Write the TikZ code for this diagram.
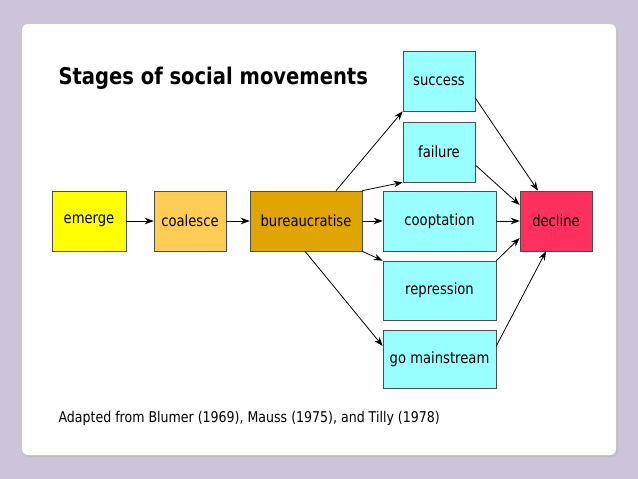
\documentclass[tikz,border=0pt]{standalone}
\usepackage{fontspec}
\setmainfont{DejaVu Sans}
\usetikzlibrary{arrows.meta}
\definecolor{bg}{HTML}{CCC5D9}
\definecolor{yel}{HTML}{FFFF00}
\definecolor{lor}{HTML}{FFCC55}
\definecolor{dor}{HTML}{E0A500}
\definecolor{cy}{HTML}{99FFFF}
\definecolor{red}{HTML}{FF2F5E}
\begin{document}
\begin{tikzpicture}[x=1pt,y=-1pt,
  bx/.style={draw=black!70,line width=0.6pt,minimum height=60pt,inner sep=0pt,font=\fontsize{15.5}{18}\selectfont\addfontfeatures{FakeStretch=0.85}},
  ar/.style={-{Stealth[length=9pt,width=6.5pt]},line width=0.8pt}]
\fill[bg] (0,0) rectangle (638,479);
\useasboundingbox (0,0) rectangle (638,479);
\fill[black!25,rounded corners=6pt] (23,26) rectangle (618,457);
\fill[white,rounded corners=6pt] (22,24) rectangle (616,455);
\node[anchor=west,font=\bfseries\fontsize{23}{26}\selectfont\addfontfeatures{FakeStretch=0.85}] (t) at (55,78) {Stages of social movements};
\node[bx,fill=yel,minimum width=74pt] (em) at (89,221) {emerge};
\node[bx,fill=lor,minimum width=72pt] (co) at (190,221) {coalesce};
\node[bx,fill=dor,minimum width=112pt] (bu) at (306,221) {bureaucratise};
\node[bx,fill=cy,minimum width=72pt] (su) at (439,81) {success};
\node[bx,fill=cy,minimum width=72pt] (fa) at (439,152) {failure};
\node[bx,fill=cy,minimum width=113pt] (cp) at (439.5,221) {cooptation};
\node[bx,fill=cy,minimum width=113pt,minimum height=59pt] (re) at (439.5,290.5) {repression};
\node[bx,fill=cy,minimum width=113pt,minimum height=58pt] (gm) at (439.5,359) {go mainstream};
\node[bx,fill=red,minimum width=72pt] (de) at (556,221) {decline};
\draw[ar] ([xshift=30pt]bu.north) -- (su.south west);
\draw[ar] (em) -- (co);
\draw[ar] (co) -- (bu);
\draw[ar] (bu.north east) -- (fa.south west);
\draw[ar] (bu) -- (cp);
\draw[ar] (bu.south east) -- (re.north west);
\draw[ar] ([xshift=-1pt]bu.south) -- ([yshift=13pt]gm.west);
\draw[ar] ([yshift=-17pt]su.east) -- ([xshift=-18pt]de.north);
\draw[ar] ([yshift=-13pt]fa.east) -- ([yshift=16pt]de.west);
\draw[ar] (cp) -- (de);
\draw[ar] (re.north east) -- ([yshift=-17pt]de.west);
\draw[ar] ([yshift=13pt]gm.east) -- ([xshift=-10pt]de.south);
\node[anchor=west,font=\fontsize{14.8}{17}\selectfont\addfontfeatures{FakeStretch=0.85}] (ft) at (55,418) {Adapted from Blumer (1969), Mauss (1975), and Tilly (1978)};
\end{tikzpicture}
\end{document}
